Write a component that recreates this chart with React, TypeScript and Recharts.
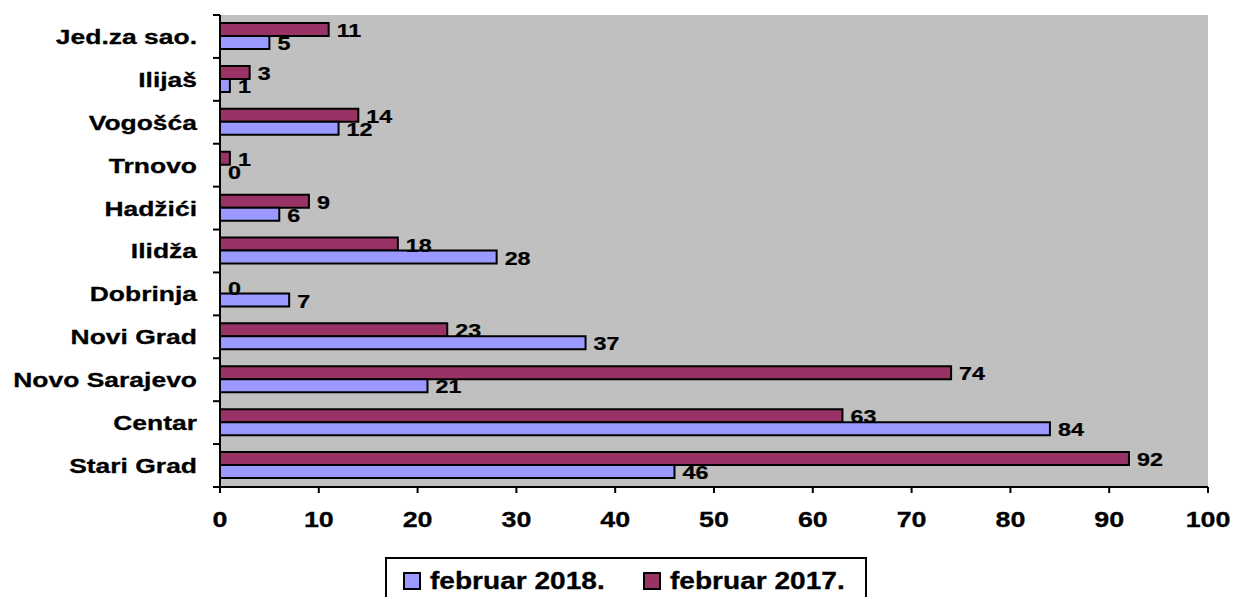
import React from 'react';
import { BarChart, Bar, XAxis, YAxis, CartesianGrid, LabelList } from 'recharts';

const categories = [
  'Jed.za sao.',
  'Ilijaš',
  'Vogošća',
  'Trnovo',
  'Hadžići',
  'Ilidža',
  'Dobrinja',
  'Novi Grad',
  'Novo Sarajevo',
  'Centar',
  'Stari Grad'
];
const feb2018 = [5, 1, 12, 0, 6, 28, 7, 37, 21, 84, 46];
const feb2017 = [11, 3, 14, 1, 9, 18, 0, 23, 74, 63, 92];
const xTicks = [0, 10, 20, 30, 40, 50, 60, 70, 80, 90, 100];

const data = categories.map((name, i) => ({ name, y2018: feb2018[i], y2017: feb2017[i] }));

const W = 1235;
const H = 597;
const TOP = 15;
const PLOT_BOTTOM = 487;
const BAND = (PLOT_BOTTOM - TOP) / categories.length;
const FONT = '"Liberation Sans", Arial, sans-serif';
const STRETCH = 1.22;

const YTick = (props: any) => {
  const { x, y, payload, index } = props;
  return (
    <g>
      <line x1={x - 7} x2={x} y1={y - BAND / 2} y2={y - BAND / 2} stroke="#000" strokeWidth={2} />
      {index === categories.length - 1 && (
        <line x1={x - 7} x2={x} y1={y + BAND / 2} y2={y + BAND / 2} stroke="#000" strokeWidth={2} />
      )}
      <text
        transform={`translate(${x - 23} ${y}) scale(1.26 1)`}
        textAnchor="end"
        dominantBaseline="central"
        fontFamily={FONT}
        fontWeight="bold"
        fontSize={21}
        fill="#000"
        stroke="#000"
        strokeWidth={0.3}
      >
        {payload.value}
      </text>
    </g>
  );
};

const XTick = (props: any) => {
  const { x, y, payload } = props;
  return (
    <g>
      <line x1={x} x2={x} y1={y} y2={y + 6} stroke="#000" strokeWidth={2} />
      <text
        transform={`translate(${x} ${y + 32}) scale(${STRETCH} 1)`}
        textAnchor="middle"
        dominantBaseline="central"
        fontFamily={FONT}
        fontWeight="bold"
        fontSize={22}
        fill="#000"
        stroke="#000"
        strokeWidth={0.3}
      >
        {payload.value}
      </text>
    </g>
  );
};

const ValueLabel = (props: any) => {
  const { x, y, width, height, value } = props;
  return (
    <text
      transform={`translate(${x + width + 8} ${y + height / 2 + 1}) scale(1.26 1)`}
      dominantBaseline="central"
      fontFamily={FONT}
      fontWeight="bold"
      fontSize={18.5}
      fill="#000"
      stroke="#000"
      strokeWidth={0.25}
    >
      {value}
    </text>
  );
};

const legendItems = [
  { label: 'februar 2018.', color: '#9999FF' },
  { label: 'februar 2017.', color: '#993366' }
];

export default function App() {
  return (
    <div style={{ position: 'absolute', left: 0, top: 0, width: W, height: H, overflow: 'hidden', background: '#fff' }}>
      <BarChart
        width={W}
        height={H}
        data={data}
        layout="vertical"
        margin={{ top: TOP, right: 27, left: 0, bottom: 0 }}
        barSize={13}
        barGap={0}
      >
        <CartesianGrid fill="#C0C0C0" horizontal={false} vertical={false} stroke="none" />
        <XAxis
          type="number"
          domain={[0, 100]}
          ticks={xTicks}
          interval={0}
          height={H - PLOT_BOTTOM - TOP + 15}
          axisLine={{ stroke: '#000', strokeWidth: 2 }}
          tickLine={false}
          tickSize={0}
          tickMargin={0}
          tick={<XTick />}
        />
        <YAxis
          type="category"
          dataKey="name"
          width={220}
          interval={0}
          axisLine={{ stroke: '#000', strokeWidth: 2 }}
          tickLine={false}
          tickSize={0}
          tickMargin={0}
          tick={<YTick />}
        />
        <Bar dataKey="y2017" fill="#993366" stroke="#000" strokeWidth={2} minPointSize={0.01} isAnimationActive={false}>
          <LabelList dataKey="y2017" content={<ValueLabel />} />
        </Bar>
        <Bar dataKey="y2018" fill="#9999FF" stroke="#000" strokeWidth={2} minPointSize={0.01} isAnimationActive={false}>
          <LabelList dataKey="y2018" content={<ValueLabel />} />
        </Bar>
      </BarChart>
      <div
        style={{
          position: 'absolute',
          left: 385,
          top: 557,
          width: 478,
          height: 44,
          border: '2px solid #000',
          background: '#fff',
          boxSizing: 'content-box'
        }}
      >
        {legendItems.map((item, i) => (
          <div
            key={item.label}
            style={{
              position: 'absolute',
              left: i === 0 ? 16 : 256,
              top: 10,
              display: 'flex',
              alignItems: 'center'
            }}
          >
            <span
              style={{
                display: 'inline-block',
                width: 14,
                height: 14,
                background: item.color,
                border: '2px solid #000',
                marginRight: 9
              }}
            />
            <span
              style={{
                fontFamily: FONT,
                fontWeight: 'bold',
                fontSize: 23,
                lineHeight: '24px',
                display: 'inline-block',
                transform: `scaleX(${STRETCH})`,
                transformOrigin: 'left center',
                whiteSpace: 'nowrap',
                WebkitTextStroke: '0.3px #000'
              }}
            >
              {item.label}
            </span>
          </div>
        ))}
      </div>
    </div>
  );
}
